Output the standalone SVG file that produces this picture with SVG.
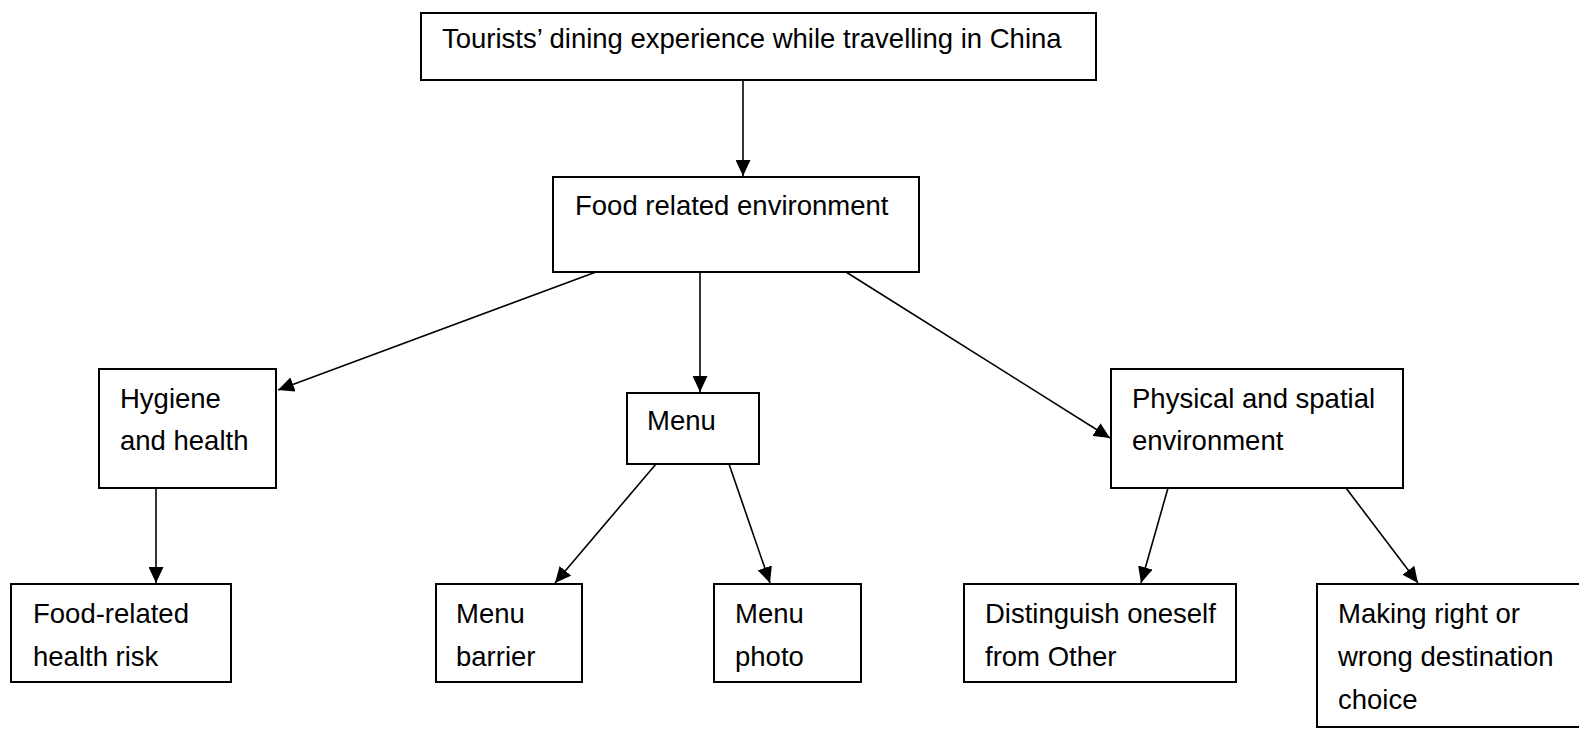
<svg xmlns="http://www.w3.org/2000/svg" width="1579" height="729" viewBox="0 0 1579 729">
  <style>
    .box { fill: #ffffff; stroke: #000000; stroke-width: 2; }
    .lbl { font-family: "Liberation Sans", Arial, sans-serif; font-size: 27.5px; fill: #000000; }
    .edge { stroke: #000000; stroke-width: 1.6; fill: none; marker-end: url(#arrow); }
  </style>
  <defs>
    <marker id="arrow" markerUnits="userSpaceOnUse" markerWidth="16" markerHeight="15" viewBox="0 0 16 15" refX="16" refY="7.5" orient="auto">
      <path d="M0,0 L16,7.5 L0,15 Z" fill="#000000"/>
    </marker>
  </defs>
  <rect width="1579" height="729" fill="#ffffff"/>

  <!-- connectors -->
  <g id="connectors">
    <line class="edge" x1="743" y1="81" x2="743" y2="176"/>
    <line class="edge" x1="596" y1="272" x2="278" y2="390"/>
    <line class="edge" x1="700" y1="272" x2="700" y2="392"/>
    <line class="edge" x1="846" y1="272" x2="1110" y2="438"/>
    <line class="edge" x1="156" y1="488" x2="156" y2="583"/>
    <line class="edge" x1="656" y1="464" x2="555" y2="583"/>
    <line class="edge" x1="729" y1="464" x2="770" y2="583"/>
    <line class="edge" x1="1168" y1="488" x2="1141" y2="583"/>
    <line class="edge" x1="1346" y1="488" x2="1418" y2="583"/>
  </g>

  <g id="root">
    <rect class="box" x="421" y="13" width="675" height="67"/>
    <text class="lbl" x="442" y="48">Tourists’ dining experience while travelling in China</text>
  </g>

  <g id="food-environment">
    <rect class="box" x="553" y="177" width="366" height="95"/>
    <text class="lbl" x="575" y="215">Food related environment</text>
  </g>

  <g id="hygiene">
    <rect class="box" x="99" y="369" width="177" height="119"/>
    <text class="lbl" x="120" y="408">Hygiene</text>
    <text class="lbl" x="120" y="450">and health</text>
  </g>

  <g id="menu">
    <rect class="box" x="627" y="393" width="132" height="71"/>
    <text class="lbl" x="647" y="430">Menu</text>
  </g>

  <g id="physical">
    <rect class="box" x="1111" y="369" width="292" height="119"/>
    <text class="lbl" x="1132" y="408">Physical and spatial</text>
    <text class="lbl" x="1132" y="450">environment</text>
  </g>

  <g id="health-risk">
    <rect class="box" x="11" y="584" width="220" height="98"/>
    <text class="lbl" x="33" y="623">Food-related</text>
    <text class="lbl" x="33" y="666">health risk</text>
  </g>

  <g id="menu-barrier">
    <rect class="box" x="436" y="584" width="146" height="98"/>
    <text class="lbl" x="456" y="623">Menu</text>
    <text class="lbl" x="456" y="666">barrier</text>
  </g>

  <g id="menu-photo">
    <rect class="box" x="714" y="584" width="147" height="98"/>
    <text class="lbl" x="735" y="623">Menu</text>
    <text class="lbl" x="735" y="666">photo</text>
  </g>

  <g id="distinguish">
    <rect class="box" x="964" y="584" width="272" height="98"/>
    <text class="lbl" x="985" y="623">Distinguish oneself</text>
    <text class="lbl" x="985" y="666">from Other</text>
  </g>

  <g id="destination-choice">
    <rect class="box" x="1317" y="584" width="280" height="143"/>
    <text class="lbl" x="1338" y="623">Making right or</text>
    <text class="lbl" x="1338" y="666">wrong destination</text>
    <text class="lbl" x="1338" y="709">choice</text>
  </g>
</svg>
